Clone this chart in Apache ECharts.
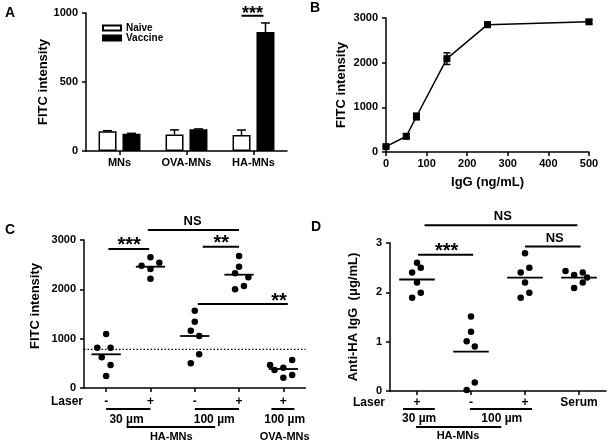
<!DOCTYPE html>
<html><head><meta charset="utf-8">
<script src="https://cdn.jsdelivr.net/npm/echarts@6/dist/echarts.min.js"></script>
<style>html,body{margin:0;padding:0;background:#fff}#c{width:612px;height:446px}</style>
</head><body><div id="c"></div>
<script>
const FONT = 'Arial, "Liberation Sans", Helvetica, sans-serif';

// ---------- Panel A ----------
const catsA = ['MNs', 'OVA-MNs', 'HA-MNs'];
const naiveA = [143, 120, 116];
const naiveErrA = [4, 33, 36];
const vaccineA = [125, 157, 862];
const vaccineErrA = [3, 3, 66];

// ---------- Panel B ----------
const iggB = [0, 50, 75, 150, 250, 500];
const fitcB = [120, 352, 795, 2090, 2850, 2915];
const errB = [20, 55, 75, 130, 55, 45];

// ---------- Panel C ----------
const laserC = ['-', '+', '-', '+', '+'];
const c0 = [1095, 817, 817, 622, 466, 243];
const c0Jit = [0, -0.2, 0.1, -0.1, 0.1, 0];
const c1 = [2649, 2480, 2541, 2412, 2216];
const c1Jit = [0, -0.2, 0.2, 0, 0];
const c2 = [1567, 1345, 1162, 1054, 683, 500];
const c2Jit = [0, 0, -0.09, 0.1, 0.1, -0.09];
const c3 = [2676, 2459, 2325, 2243, 2000, 2068];
const c3Jit = [0, 0, -0.09, 0.21, -0.09, 0.11];
const c4 = [466, 365, 412, 568, 209, 264];
const c4Jit = [-0.3, -0.2, 0, 0.2, 0, 0.2];
const meanC = [683, 2459, 1054, 2297, 385];
const thresholdC = 784;

// ---------- Panel D ----------
const laserD = ['+', '-', '+', 'Serum'];
const d0 = [2.60, 2.50, 2.40, 2.20, 1.99, 1.89];
const d0Jit = [0, 0.07, -0.09, 0, 0.07, -0.09];
const d1 = [1.51, 1.20, 1.01, 0.90, 0.17, 0.02];
const d1Jit = [0, 0, -0.08, 0.07, 0.07, -0.08];
const d2 = [2.79, 2.50, 2.40, 2.20, 1.99, 1.89];
const d2Jit = [0, 0.08, -0.08, 0, 0.08, -0.08];
const d3 = [2.43, 2.35, 2.40, 2.30, 2.20, 2.09];
const d3Jit = [-0.25, -0.09, 0.07, 0.15, 0.07, -0.09];
const meanD = [2.26, 0.80, 2.30, 2.30];

// ---------- annotations (data coordinates) ----------
const sigA = [{cat: 2, y: 980, text: '***'}];
const sigC = [
  {x0: 0.05, x1: 0.97, y: 2818, text: '***', tx: 0.52},
  {x0: 0.94, x1: 3.0, y: 3203, text: 'NS', tx: 1.95},
  {x0: 2.18, x1: 3.0, y: 2864, text: '**', tx: 2.6},
  {x0: 2.07, x1: 4.1, y: 1703, text: '**', tx: 3.9}
];
const sigD = [
  {x0: 0.02, x1: 1.04, y: 2.76, text: '***', tx: 0.55},
  {x0: 0.14, x1: 2.97, y: 3.36, text: 'NS', tx: 1.59},
  {x0: 2.0, x1: 3.03, y: 2.93, text: 'NS', tx: 2.55}
];
const groupC = {
  lines: [[0, 1, 21], [2, 3, 21], [3.73, 4.25, 21], [0.46, 2.46, 39]],
  texts: [[0.46, 32, '30 µm', 12], [2.44, 32, '100 µm', 12], [4.03, 32, '100 µm', 12], [1.47, 49, 'HA-MNs', 11], [4.03, 49, 'OVA-MNs', 11]]
};
const groupD = {
  lines: [[-0.26, 0.33, 18], [0.98, 2.13, 18], [-0.02, 1.56, 36]],
  texts: [[0.04, 28, '30 µm', 12], [1.57, 28, '100 µm', 12], [0.76, 45, 'HA-MNs', 11]]
};

const K = '#000';
const lab = (size, extra) => Object.assign({color: K, fontSize: size, fontWeight: 'bold', fontFamily: FONT}, extra || {});
const axLine = {show: true, onZero: false, lineStyle: {color: K, width: 1.5}};
const axTick = (extra) => Object.assign({show: true, length: 4, lineStyle: {color: K, width: 1.5}}, extra || {});
const plain = v => String(v);

function yAx(grid, min, max, interval, name, nameGap, namePad) {
  return {type: 'value', gridIndex: grid, min, max, interval, name, nameLocation: 'middle', nameGap,
    nameTextStyle: lab(13, namePad ? {padding: namePad} : {}), axisLine: axLine, axisTick: axTick(),
    axisLabel: lab(11, {margin: 8, formatter: plain}), splitLine: {show: false}};
}
function textEl(x, y, text, size, align, vAlign) {
  return {type: 'text', x, y, silent: true, style: {text, fill: K, fontSize: size, fontWeight: 'bold', fontFamily: FONT,
    align: align || 'center', verticalAlign: vAlign || 'middle'}};
}
function lineEl(x1, y1, x2, y2, w, dash) {
  return {type: 'line', silent: true, shape: {x1, y1, x2, y2}, style: {stroke: K, lineWidth: w || 2, lineDash: dash || null}};
}
function sigEls(api, sig) {
  const ch = [];
  sig.forEach(s => {
    const a = api.coord([s.x0, s.y]), b = api.coord([s.x1, s.y]), t = api.coord([s.tx, s.y]);
    ch.push(lineEl(a[0], a[1], b[0], b[1], 2));
    const ns = s.text === 'NS';
    ch.push(textEl(t[0], t[1] + (ns ? -8.5 : -3), s.text, ns ? 13 : 20));
  });
  return ch;
}
function groupEls(api, grp, xmin, laserDx, laserDy) {
  const ch = [];
  const ax = api.coord([xmin, 0]);
  ch.push(textEl(ax[0] - laserDx, ax[1] + laserDy, 'Laser', 12, 'right'));
  grp.lines.forEach(l => {
    const a = api.coord([l[0], 0]), b = api.coord([l[1], 0]);
    ch.push(lineEl(a[0], a[1] + l[2], b[0], b[1] + l[2], 2));
  });
  grp.texts.forEach(t => {
    const p = api.coord([t[0], 0]);
    ch.push(textEl(p[0], p[1] + t[1], t[2], t[3]));
  });
  return ch;
}
function pts(groups, jits) {
  const out = [];
  groups.forEach((g, i) => g.forEach((v, j) => out.push([i + jits[i][j], v])));
  return out;
}
function meanSeries(xi, yi, means) {
  return {type: 'custom', xAxisIndex: xi, yAxisIndex: yi, z: 5, silent: true,
    data: means.map((m, i) => [i, m]),
    renderItem: (p, api) => {
      const a = api.coord([api.value(0) - 0.33, api.value(1)]);
      const b = api.coord([api.value(0) + 0.33, api.value(1)]);
      return lineEl(a[0], a[1], b[0], b[1], 1.8);
    }};
}
const BAR_OFF = 12;
function errA(vals, errs, side) {
  return {type: 'custom', xAxisIndex: 0, yAxisIndex: 0, z: 6, silent: true,
    data: vals.map((v, i) => [i, v, errs[i]]),
    renderItem: (p, api) => {
      const b = api.coord([api.value(0), api.value(1)]);
      const t = api.coord([api.value(0), api.value(1) + api.value(2)]);
      const x = b[0] + side * BAR_OFF;
      return {type: 'group', children: [lineEl(x, b[1], x, t[1], 1.5), lineEl(x - 4.5, t[1], x + 4.5, t[1], 1.5)]};
    }};
}

const chart = echarts.init(document.getElementById('c'));
chart.setOption({
  animation: false,
  backgroundColor: '#fff',
  textStyle: {fontFamily: FONT},
  grid: [
    {left: 86, top: 13, width: 201, height: 138},
    {left: 386, top: 18, width: 203, height: 134},
    {left: 84, top: 240, width: 221.5, height: 148},
    {left: 390, top: 243, width: 216, height: 148}
  ],
  legend: {data: ['Naive', 'Vaccine'], left: 102, top: 23, padding: 0, orient: 'vertical', itemWidth: 18, itemHeight: 5,
    itemGap: 0, icon: 'rect', selectedMode: false, textStyle: lab(10, {lineHeight: 10})},
  xAxis: [
    {type: 'category', gridIndex: 0, data: catsA, axisLine: axLine, axisTick: axTick({alignWithLabel: true}),
      axisLabel: lab(11, {margin: 6})},
    {type: 'value', gridIndex: 1, min: 0, max: 500, interval: 100, name: 'IgG (ng/mL)', nameLocation: 'middle', nameGap: 24,
      nameTextStyle: lab(13), axisLine: axLine, axisTick: axTick(), axisLabel: lab(11, {margin: 6, formatter: plain}), splitLine: {show: false}},
    {type: 'value', gridIndex: 2, min: -0.5, max: 4.5, axisLine: axLine,
      axisTick: axTick({customValues: laserC.map((_, i) => i)}),
      axisLabel: lab(12, {margin: 8, customValues: laserC.map((_, i) => i), formatter: v => laserC[Math.round(v)]}),
      splitLine: {show: false}},
    {type: 'value', gridIndex: 3, min: -0.5, max: 3.5, axisLine: axLine,
      axisTick: axTick({customValues: laserD.map((_, i) => i)}),
      axisLabel: lab(12, {margin: 6, customValues: laserD.map((_, i) => i), formatter: v => laserD[Math.round(v)]}),
      splitLine: {show: false}}
  ],
  yAxis: [
    yAx(0, 0, 1000, 500, 'FITC intensity', 28),
    yAx(1, 0, 3000, 1000, 'FITC intensity', 38),
    yAx(2, 0, 3000, 1000, 'FITC intensity', 42, [0, 0, 0, 16]),
    yAx(3, 0, 3, 1, 'Anti-HA IgG  (μg/mL)', 30)
  ],
  graphic: [
    {type: 'text', left: 5, top: 6, style: {text: 'A', fill: K, fontSize: 14, fontWeight: 'bold', fontFamily: FONT}},
    {type: 'text', left: 310, top: 1, style: {text: 'B', fill: K, fontSize: 14, fontWeight: 'bold', fontFamily: FONT}},
    {type: 'text', left: 5, top: 223, style: {text: 'C', fill: K, fontSize: 14, fontWeight: 'bold', fontFamily: FONT}},
    {type: 'text', left: 311, top: 220, style: {text: 'D', fill: K, fontSize: 14, fontWeight: 'bold', fontFamily: FONT}}
  ],
  series: [
    {name: 'Naive', type: 'bar', xAxisIndex: 0, yAxisIndex: 0, data: naiveA, barWidth: 18, barGap: '33%',
      itemStyle: {color: '#fff', borderColor: K, borderWidth: 1.5}},
    {name: 'Vaccine', type: 'bar', xAxisIndex: 0, yAxisIndex: 0, data: vaccineA, barWidth: 18, barGap: '33%',
      itemStyle: {color: K, borderColor: K, borderWidth: 1.5}},
    errA(naiveA, naiveErrA, -1),
    errA(vaccineA, vaccineErrA, 1),
    {type: 'custom', xAxisIndex: 0, yAxisIndex: 0, z: 7, silent: true, data: [[0, 0]],
      renderItem: (p, api) => {
        const ch = [];
        sigA.forEach(s => {
          const c = api.coord([s.cat, s.y]);
          ch.push(lineEl(c[0] - 12, c[1], c[0] + 10, c[1], 2));
          ch.push(textEl(c[0] - 1, c[1] - 2, s.text, 18));
        });
        return {type: 'group', children: ch};
      }},
    {type: 'line', xAxisIndex: 1, yAxisIndex: 1, data: iggB.map((x, i) => [x, fitcB[i]]), clip: false,
      symbol: 'rect', symbolSize: 7, lineStyle: {color: K, width: 1.5}, itemStyle: {color: K}},
    {type: 'custom', xAxisIndex: 1, yAxisIndex: 1, z: 6, silent: true,
      data: iggB.map((x, i) => [x, fitcB[i], errB[i]]),
      renderItem: (p, api) => {
        const lo = api.coord([api.value(0), api.value(1) - api.value(2)]);
        const hi = api.coord([api.value(0), api.value(1) + api.value(2)]);
        const x = lo[0];
        return {type: 'group', children: [lineEl(x, lo[1], x, hi[1], 1.5),
          lineEl(x - 3.5, lo[1], x + 3.5, lo[1], 1.5), lineEl(x - 3.5, hi[1], x + 3.5, hi[1], 1.5)]};
      }},
    {type: 'scatter', xAxisIndex: 2, yAxisIndex: 2, symbol: 'circle', symbolSize: 6.5, itemStyle: {color: K, opacity: 1},
      data: pts([c0, c1, c2, c3, c4], [c0Jit, c1Jit, c2Jit, c3Jit, c4Jit]), clip: false},
    meanSeries(2, 2, meanC),
    {type: 'custom', xAxisIndex: 2, yAxisIndex: 2, z: 7, silent: true, data: [[0, 0]],
      renderItem: (p, api) => {
        const ch = sigEls(api, sigC);
        const a = api.coord([-0.5, thresholdC]), b = api.coord([4.5, thresholdC]);
        ch.push(lineEl(a[0], a[1], b[0], b[1], 1.3, [1.5, 2]));
        return {type: 'group', children: ch.concat(groupEls(api, groupC, -0.5, 1, 14))};
      }},
    {type: 'scatter', xAxisIndex: 3, yAxisIndex: 3, symbol: 'circle', symbolSize: 6.5, itemStyle: {color: K, opacity: 1},
      data: pts([d0, d1, d2, d3], [d0Jit, d1Jit, d2Jit, d3Jit]), clip: false},
    meanSeries(3, 3, meanD),
    {type: 'custom', xAxisIndex: 3, yAxisIndex: 3, z: 7, silent: true, data: [[0, 0]],
      renderItem: (p, api) => ({type: 'group', children: sigEls(api, sigD).concat(groupEls(api, groupD, -0.5, 5, 12))})}
  ]
});
</script></body></html>
